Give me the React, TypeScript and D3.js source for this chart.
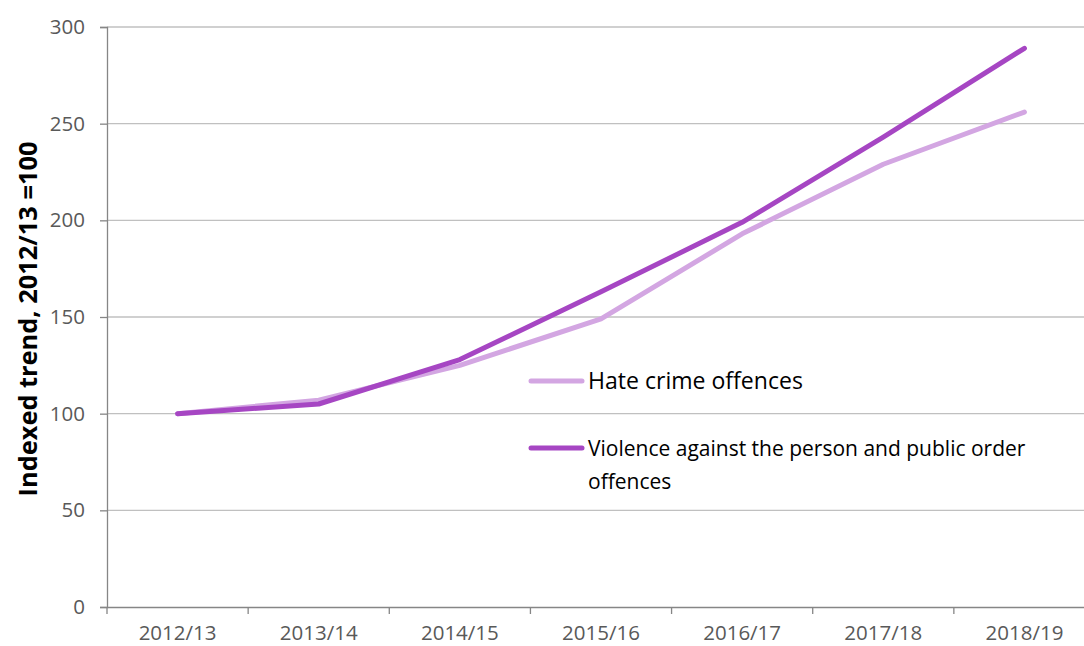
import React, { useEffect, useRef } from "react";
import * as d3 from "d3";

const categories = ["2012/13", "2013/14", "2014/15", "2015/16", "2016/17", "2017/18", "2018/19"];
const hateCrime = [100, 107, 125, 149, 193, 229, 256];
const violence = [100, 105, 128, 163, 199, 243, 289];
const yTicks = [0, 50, 100, 150, 200, 250, 300];
const seriesNames = ["Hate crime offences", "Violence against the person and public order offences"];

const W = 1084, H = 646;
const FONT = "'Open Sans', sans-serif";

// shrink/grow a text node's font so it spans roughly the given width
function fitWidth(t: d3.Selection<SVGTextElement, unknown, null, undefined>, target: number, start: number) {
  const node = t.node();
  if (!node) return;
  const w = node.getComputedTextLength();
  if (w > 0) t.style("font-size", `${(start * target / w).toFixed(2)}px`);
}

const App: React.FC = () => {
  const ref = useRef<SVGSVGElement>(null);

  useEffect(() => {
    const svg = d3.select(ref.current);
    svg.selectAll("*").remove();

    const left = 107, right = 1095, top = 27, bottom = 607;
    const x = d3.scaleBand().domain(categories).range([left, right]);
    const y = d3.scaleLinear().domain([0, 300]).range([bottom, top]);

    // gridlines
    svg.append("g")
      .selectAll("line")
      .data(yTicks.filter(d => d > 0))
      .enter().append("line")
      .attr("x1", left).attr("x2", right)
      .attr("y1", d => y(d)).attr("y2", d => y(d))
      .attr("stroke", "#c0c0c0").attr("stroke-width", 1.3);

    // y axis
    const yAxis = svg.append("g")
      .attr("transform", `translate(${left},0)`)
      .call(d3.axisLeft(y).tickValues(yTicks).tickSize(7).tickPadding(15));
    yAxis.select(".domain").attr("stroke", "#868686").attr("stroke-width", 1.3);
    yAxis.selectAll(".tick line").attr("stroke", "#868686").attr("stroke-width", 1.3);
    yAxis.selectAll(".tick text")
      .style("font-family", FONT).style("font-size", "20.5px").attr("fill", "#595959");

    // x axis
    const xAxis = svg.append("g")
      .attr("transform", `translate(0,${bottom})`)
      .call(d3.axisBottom(x).tickSize(0).tickPadding(18));
    xAxis.select(".domain").attr("stroke", "#868686").attr("stroke-width", 1.3);
    xAxis.selectAll(".tick text")
      .style("font-family", FONT).style("font-size", "20.5px").attr("fill", "#595959");
    // category boundary ticks
    svg.append("g")
      .selectAll("line")
      .data(categories)
      .enter().append("line")
      .attr("x1", d => x(d) || 0).attr("x2", d => x(d) || 0)
      .attr("y1", bottom).attr("y2", bottom + 7)
      .attr("stroke", "#868686").attr("stroke-width", 1.3);

    // y title
    const title = svg.append("text")
      .attr("transform", `translate(37,319) rotate(-90)`)
      .attr("text-anchor", "middle")
      .style("font-family", FONT).style("font-size", "22px").style("font-weight", "bold")
      .attr("fill", "#000")
      .text("Indexed trend, 2012/13 =100");
    fitWidth(title, 355, 22);

    const cx = (d: string) => (x(d) || 0) + x.bandwidth() / 2;
    const line = d3.line<number>()
      .x((_, i) => cx(categories[i]))
      .y(d => y(d));

    const series = [
      { values: hateCrime, color: "#d3a6e2" },
      { values: violence, color: "#a646c3" },
    ];
    series.forEach(s => {
      svg.append("path")
        .datum(s.values)
        .attr("d", line)
        .attr("fill", "none")
        .attr("stroke", s.color)
        .attr("stroke-width", 5)
        .attr("stroke-linecap", "round")
        .attr("stroke-linejoin", "round");
    });

    // legend
    const lg = svg.append("g");
    const legendRows = [
      { y: 381, color: "#d3a6e2", lines: [seriesNames[0]] },
      { y: 448, color: "#a646c3", lines: ["Violence against the person and public order", "offences"] },
    ];
    legendRows.forEach((r, k) => {
      lg.append("line")
        .attr("x1", 531).attr("x2", 582)
        .attr("y1", r.y).attr("y2", r.y)
        .attr("stroke", r.color).attr("stroke-width", 5).attr("stroke-linecap", "round");
      const t = lg.append("text")
        .attr("x", 588).attr("y", r.y + 8)
        .style("font-family", FONT).style("font-size", "21px").attr("fill", "#000");
      r.lines.forEach((l, i) => {
        t.append("tspan").attr("x", 588).attr("dy", i === 0 ? 0 : 33).text(l);
      });
      if (k === 0) fitWidth(t, 215, 21);
    });
  }, []);

  return (
    <svg ref={ref} width={W} height={H}
      style={{ position: "absolute", left: 0, top: 0, background: "#fff" }} />
  );
};

export default App;
